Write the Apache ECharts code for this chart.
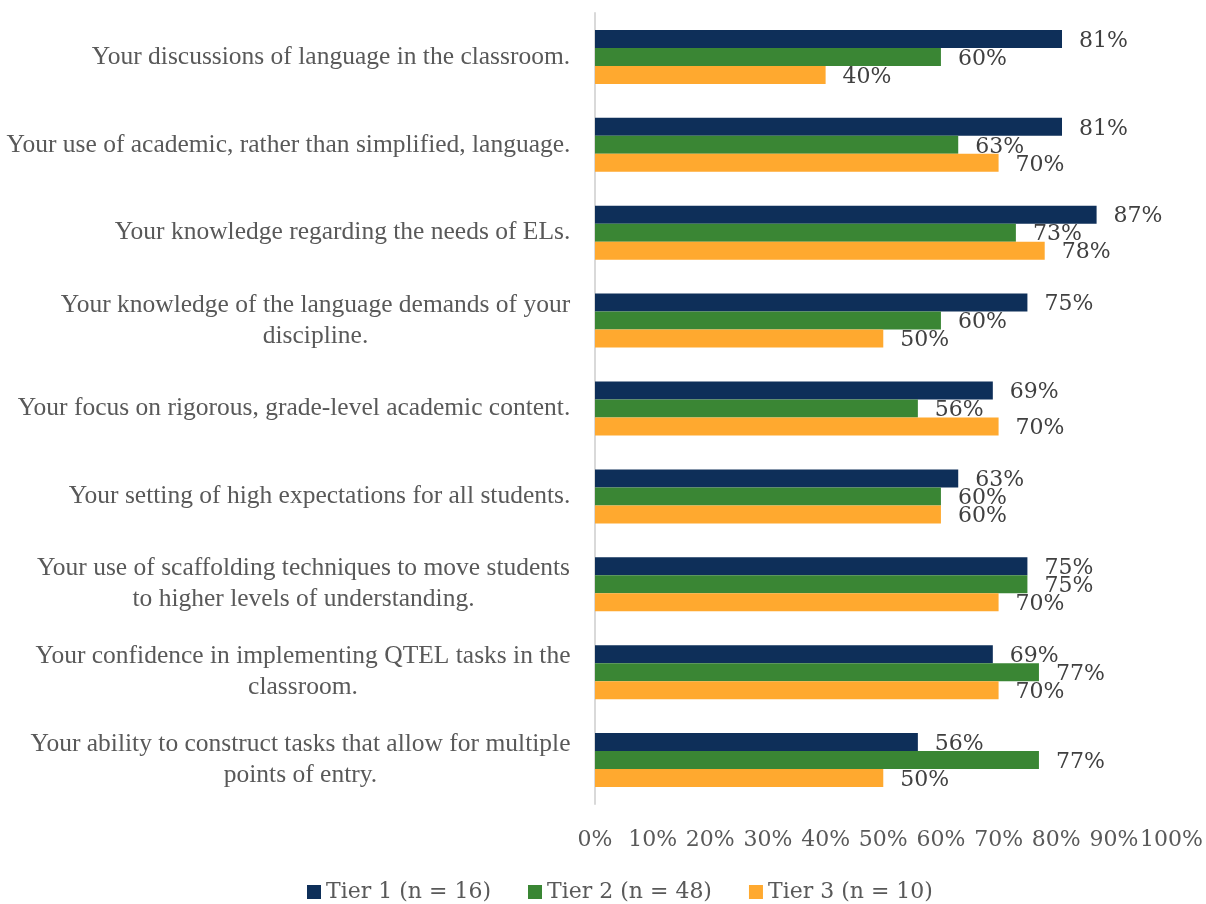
<!DOCTYPE html>
<html>
<head>
<meta charset="utf-8">
<script src="https://cdn.jsdelivr.net/npm/echarts@6/dist/echarts.min.js"></script>
<style>
  html, body { margin: 0; padding: 0; background: #fff; }
  #chart { width: 1206px; height: 904px; }
</style>
</head>
<body>
<div id="chart"></div>
<script>
// Survey items (top to bottom)
const categories = [
  'Your discussions of language in the classroom.',
  'Your use of academic, rather than simplified, language.',
  'Your knowledge regarding the needs of ELs.',
  'Your knowledge of the language demands of your\ndiscipline.',
  'Your focus on rigorous, grade-level academic content.',
  'Your setting of high expectations for all students.',
  'Your use of scaffolding techniques to move students\nto higher levels of understanding.',
  'Your confidence in implementing QTEL tasks in the\nclassroom.',
  'Your ability to construct tasks that allow for multiple\npoints of entry.'
];

// Percent of respondents per tier
const tier1 = [81, 81, 87, 75, 69, 63, 75, 69, 56];
const tier2 = [60, 63, 73, 60, 56, 60, 75, 77, 77];
const tier3 = [40, 70, 78, 50, 70, 60, 70, 70, 50];

const seriesNames = ['Tier 1 (n = 16)', 'Tier 2 (n = 48)', 'Tier 3 (n = 10)'];
const seriesColors = ['#0E2F59', '#3A8634', '#FFA92F'];

const catFamily = '"Liberation Serif", "Times New Roman", serif';
const catSize = 25.5;
const numFamily = '"DejaVu Serif", serif';

// Multi-line item labels: centre each line within the widest line of that label
const measureCtx = document.createElement('canvas').getContext('2d');
measureCtx.font = catSize + 'px ' + catFamily;
const rich = {};
categories.forEach((c, i) => {
  const w = Math.max(...c.split('\n').map(l => measureCtx.measureText(l).width));
  rich['c' + i] = {
    width: Math.ceil(w) + 1,
    align: 'center',
    fontFamily: catFamily,
    fontSize: catSize,
    color: '#595959',
    lineHeight: 31
  };
});

const chart = echarts.init(document.getElementById('chart'), null, { renderer: 'canvas' });

const seriesData = [tier1, tier2, tier3];

chart.setOption({
  animation: false,
  backgroundColor: '#ffffff',
  grid: { left: 595, right: 33, top: 13, bottom: 100, containLabel: false },
  legend: {
    top: 876,
    left: 302,
    icon: 'rect',
    itemWidth: 14,
    itemHeight: 14,
    itemGap: 37,
    data: seriesNames,
    textStyle: { fontFamily: numFamily, fontSize: 22, color: '#595959' }
  },
  xAxis: {
    type: 'value',
    min: 0,
    max: 100,
    interval: 10,
    splitLine: { show: false },
    axisLine: { show: false },
    axisTick: { show: false },
    axisLabel: {
      formatter: '{value}%',
      margin: 25,
      fontFamily: numFamily,
      fontSize: 22,
      color: '#595959'
    }
  },
  yAxis: {
    type: 'category',
    inverse: true,
    data: categories,
    axisLine: { show: true, lineStyle: { color: '#d9d9d9', width: 2 } },
    axisTick: { show: false },
    axisLabel: {
      margin: 24,
      align: 'right',
      formatter: (v, i) => v.split('\n').map(l => '{c' + i + '|' + l + '}').join('\n'),
      rich: rich
    }
  },
  series: seriesNames.map((name, k) => ({
    name: name,
    type: 'bar',
    data: seriesData[k],
    barWidth: 18,
    barGap: '0%',
    itemStyle: { color: seriesColors[k] },
    label: {
      show: true,
      position: 'right',
      distance: 17,
      offset: [0, 2],
      formatter: '{c}%',
      fontFamily: numFamily,
      fontSize: 22,
      color: '#404040'
    }
  }))
});
</script>
</body>
</html>
